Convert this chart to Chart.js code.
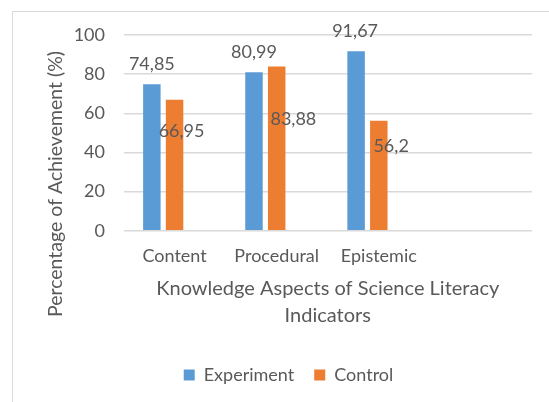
<!DOCTYPE html>
<html><head><meta charset="utf-8">
<script src="https://cdn.jsdelivr.net/npm/chart.js@4"></script>
<style>html,body{margin:0;padding:0;background:#fff;}canvas{display:block;}</style>
</head><body>
<canvas id="c" width="549" height="402"></canvas>
<script>
const categories = ['Content', 'Procedural', 'Epistemic', ''];
const seriesNames = ['Experiment', 'Control'];
const experiment = [74.85, 80.99, 91.67, null];
const control = [66.95, 83.88, 56.2, null];
const yTicks = [0, 20, 40, 60, 80, 100];
const xTitle = ['Knowledge Aspects of Science Literacy', 'Indicators'];
const yTitle = 'Percentage of Achievement (%)';

// label placement relative to each bar top (pixels)
const expLabelOffsets = [[0, -20.5], [0, -20.5], [-1, -20.5]];
const ctrlLabelOffsets = [[7, 31.5], [16.7, 52.4], [12.3, 25.2]];

const FONT = 'Lato';
const TXT = '#595959';

const fmt = v => String(v).replace('.', ',');

const decor = {
  id: 'decor',
  beforeDraw(chart) {
    const ctx = chart.ctx;
    ctx.save();
    ctx.fillStyle = '#fff';
    ctx.fillRect(0, 0, chart.width, chart.height);
    ctx.strokeStyle = '#d9d9d9';
    ctx.lineWidth = 1;
    ctx.strokeRect(12.5, 11.5, 700, 600);
    ctx.restore();
  },
  afterDraw(chart) {
    const ctx = chart.ctx;
    ctx.save();
    ctx.font = '19.5px ' + FONT;
    ctx.fillStyle = TXT;
    ctx.textAlign = 'center';
    ctx.textBaseline = 'middle';
    ctx.translate(55.5, 184);
    ctx.rotate(-Math.PI / 2);
    ctx.fillText(yTitle, 0, 0);
    ctx.restore();
  },
  afterDatasetsDraw(chart) {
    const ctx = chart.ctx;
    ctx.save();
    ctx.font = '18px ' + FONT;
    ctx.fillStyle = TXT;
    ctx.textAlign = 'center';
    ctx.textBaseline = 'middle';
    [[0, expLabelOffsets], [1, ctrlLabelOffsets]].forEach(([di, offs]) => {
      const meta = chart.getDatasetMeta(di);
      const data = chart.data.datasets[di].data;
      meta.data.forEach((bar, i) => {
        if (data[i] == null) return;
        const o = offs[i];
        ctx.fillText(fmt(data[i]), bar.x + o[0], bar.y + o[1]);
      });
    });
    ctx.restore();
  }
};

new Chart(document.getElementById('c'), {
  type: 'bar',
  data: {
    labels: categories,
    datasets: [
      { label: seriesNames[0], data: experiment, backgroundColor: '#5B9BD5' },
      { label: seriesNames[1], data: control, backgroundColor: '#ED7D31' },
      { label: '', data: categories.map(() => null), backgroundColor: 'rgba(0,0,0,0)' }
    ]
  },
  options: {
    responsive: false,
    animation: false,
    devicePixelRatio: 1,
    layout: { padding: { top: 35, right: 17, left: 45, bottom: 8 } },
    datasets: { bar: { categoryPercentage: 0.667, barPercentage: 0.77 } },
    plugins: {
      tooltip: { enabled: false },
      legend: {
        position: 'bottom',
        labels: {
          filter: item => item.text !== '',
          boxWidth: 11, boxHeight: 11, padding: 20,
          color: TXT, font: { family: FONT, size: 18 }
        }
      }
    },
    scales: {
      x: {
        grid: { display: false, drawTicks: false },
        border: { display: false },
        ticks: { color: TXT, font: { family: FONT, size: 18 }, padding: 14.5, maxRotation: 0, autoSkip: false },
        title: { display: true, text: xTitle, color: TXT, font: { family: FONT, size: 20, lineHeight: '26.5px' }, padding: { top: 0, bottom: 17.25 } },
        afterFit(scale) { scale.height = 115.3; }
      },
      y: {
        min: 0, max: 100,
        afterBuildTicks(scale) { scale.ticks = yTicks.map(v => ({ value: v })); },
        grid: { color: '#d9d9d9', lineWidth: 1.5, drawTicks: false },
        border: { display: false },
        ticks: { color: TXT, font: { family: FONT, size: 18 }, padding: 18.5 },
        afterFit(scale) { scale.width = 78.5; }
      }
    }
  },
  plugins: [decor]
});
</script>
</body></html>
